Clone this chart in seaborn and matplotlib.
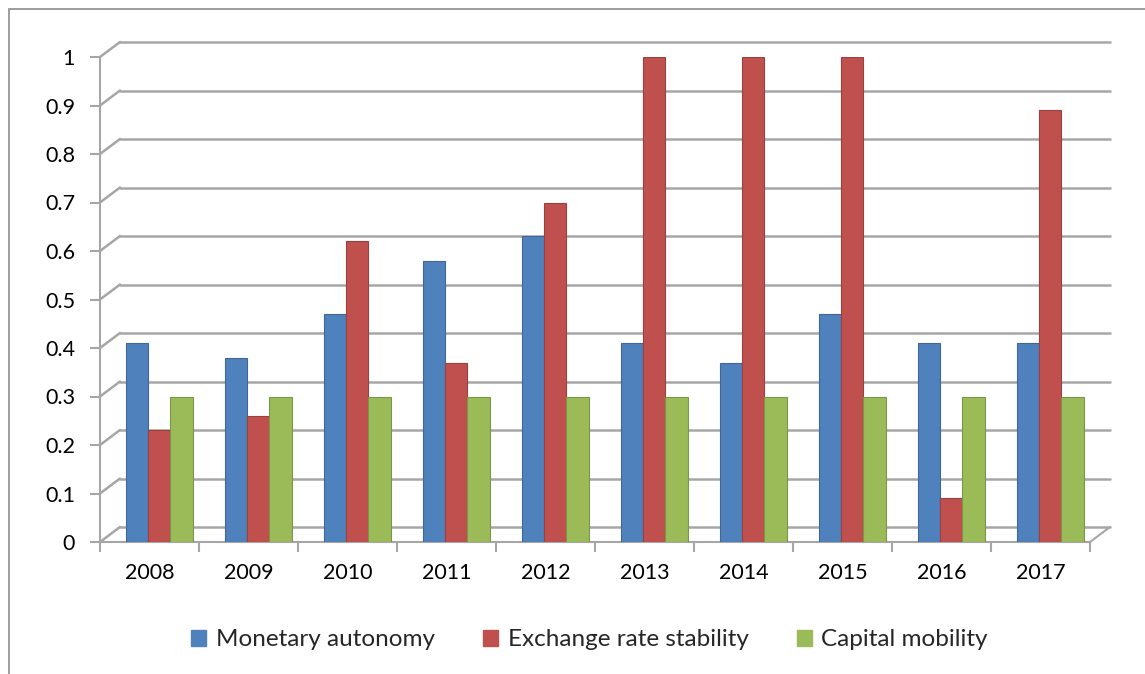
import matplotlib
matplotlib.use("Agg")
import matplotlib.pyplot as plt
import matplotlib.transforms as mtransforms
from matplotlib.patches import Rectangle
import seaborn as sns
import pandas as pd

years = ["2008", "2009", "2010", "2011", "2012", "2013", "2014", "2015", "2016", "2017"]
monetary_autonomy = [0.41, 0.38, 0.47, 0.58, 0.63, 0.41, 0.37, 0.47, 0.41, 0.41]
exchange_rate_stability = [0.23, 0.26, 0.62, 0.37, 0.70, 1.00, 1.00, 1.00, 0.09, 0.89]
capital_mobility = [0.30, 0.30, 0.30, 0.30, 0.30, 0.30, 0.30, 0.30, 0.30, 0.30]
series_names = ["Monetary autonomy", "Exchange rate stability", "Capital mobility"]
colors = ["#4F81BD", "#C0504D", "#9BBB59"]
yticks = [0, 0.1, 0.2, 0.3, 0.4, 0.5, 0.6, 0.7, 0.8, 0.9, 1]
ytick_labels = ["0", "0.1", "0.2", "0.3", "0.4", "0.5", "0.6", "0.7", "0.8", "0.9", "1"]

rows = []
for name, vals in zip(series_names, [monetary_autonomy, exchange_rate_stability, capital_mobility]):
    for y, v in zip(years, vals):
        rows.append({"Year": y, "Series": name, "Value": v})
df = pd.DataFrame(rows)

sns.set_theme(style="white")
plt.rcParams["font.family"] = ["Lato", "DejaVu Sans"]

fig = plt.figure(figsize=(11.45, 6.74), dpi=100)
W, H = 1145, 674
ax = fig.add_axes([100 / W, (H - 542) / H, 990 / W, 485 / H])

# 3D-ish back wall offsets (in data units)
dx = 20 / 99.0
dy = 15 / 485.0
x0, x1 = -0.6, 9.4
grid_col = "#A6A6A6"
for t in yticks:
    ax.plot([x0 + dx, x1 + dx], [t + dy, t + dy], color=grid_col, lw=1.8, clip_on=False, zorder=0)
    ax.plot([x0, x0 + dx], [t, t + dy], color=grid_col, lw=1.8, clip_on=False, zorder=0)
# floor right edge
ax.plot([x1, x1 + dx], [0, dy], color=grid_col, lw=1.5, clip_on=False, zorder=0)

sns.barplot(data=df, x="Year", y="Value", hue="Series", palette=colors,
            width=0.67, gap=0.0, ax=ax, saturation=1, zorder=3,
            edgecolor="none", legend=True)

# subtle cylinder shading: darker edge
for bar in ax.patches:
    if bar.get_height() > 0:
        fc = bar.get_facecolor()
        bar.set_edgecolor((fc[0] * 0.8, fc[1] * 0.8, fc[2] * 0.8, 1))
        bar.set_linewidth(0.8)

ax.set_xlim(x0, x1)
ax.set_ylim(0, 1.0)
ax.set_xlabel("")
ax.set_ylabel("")

for s in ["top", "right"]:
    ax.spines[s].set_visible(False)
for s in ["left", "bottom"]:
    ax.spines[s].set_color(grid_col)
    ax.spines[s].set_linewidth(1.5)

ax.set_yticks(yticks)
ax.set_yticklabels(ytick_labels, fontsize=15.5, color="#000000")
ax.tick_params(axis="y", length=7, width=1.5, color=grid_col, pad=11, left=True)

ax.set_xticks(range(len(years)))
ax.set_xticklabels(years, fontsize=15.5, color="#000000")
ax.tick_params(axis="x", which="major", length=0, pad=15)
ax.set_xticks([i + x0 for i in range(len(years) + 1)], minor=True)
ax.tick_params(axis="x", which="minor", length=7, width=1.5, color=grid_col, bottom=True)
shift = mtransforms.ScaledTranslation(-10 / 100, 0, fig.dpi_scale_trans)
for lbl in ax.get_xticklabels():
    lbl.set_transform(lbl.get_transform() + shift)

ax.set_facecolor("none")
ax.get_legend().remove()
handles = [Rectangle((0, 0), 1, 1, color=c) for c in colors]
fig.legend(handles, series_names, loc="center", bbox_to_anchor=(0.515, 1 - 640 / H),
           ncol=3, frameon=False, fontsize=17.5, handlelength=0.6, handleheight=0.6,
           columnspacing=2.0, handletextpad=0.4)

# outer chart border
fig.patches.append(Rectangle((9 / W, -0.1), 1.2, 1 - 9 / H + 0.1, transform=fig.transFigure,
                             fill=False, edgecolor="#8C8C8C", lw=1.2))

fig.savefig("out.png", dpi=100)
